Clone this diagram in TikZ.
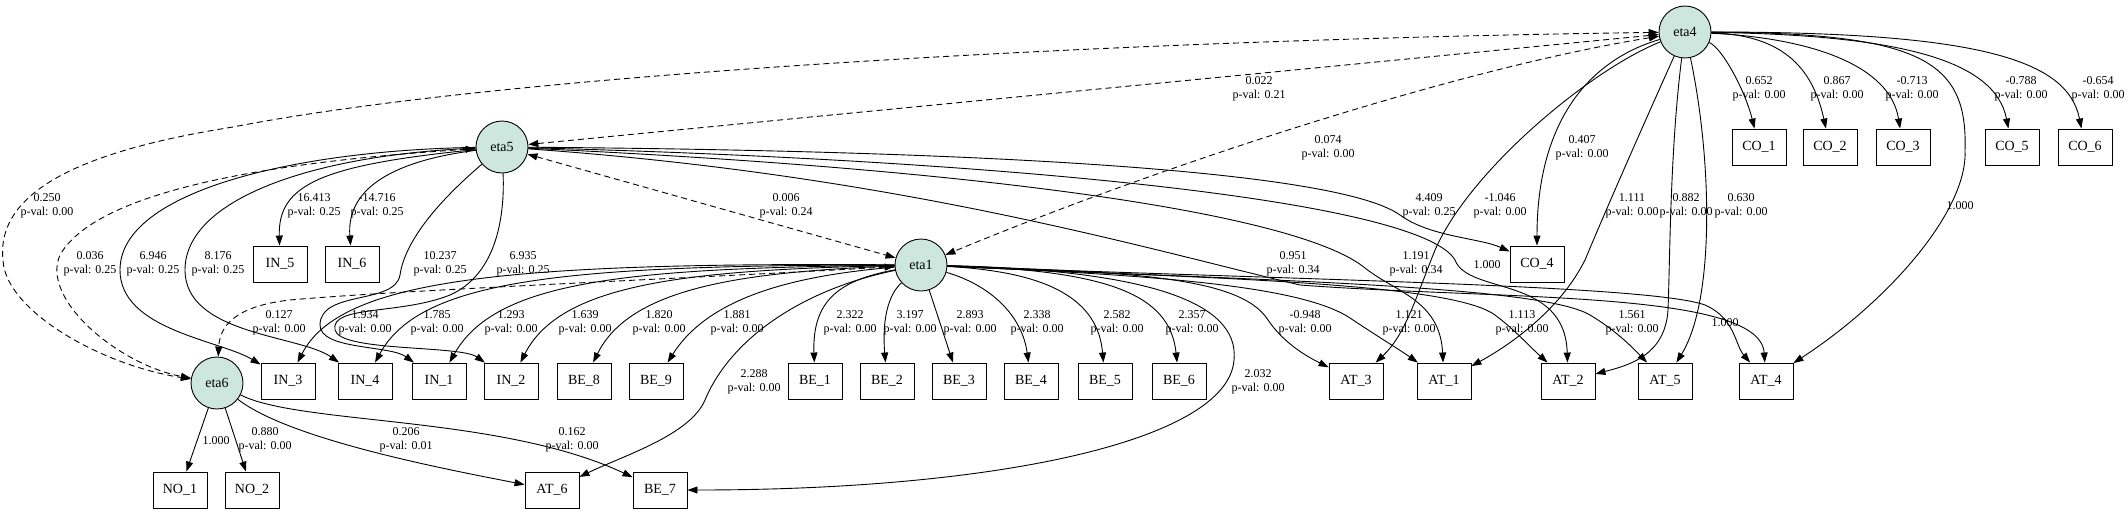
\documentclass[tikz,border=0pt]{standalone}
\usepackage{fontspec}
\setmainfont{Liberation Serif}
\usetikzlibrary{arrows.meta}
\definecolor{latfill}{RGB}{205,230,222}
\begin{document}
\begin{tikzpicture}[x=1pt,y=-1pt,
  lat/.style={circle,draw,line width=0.9pt,fill=latfill,minimum size=52pt,inner sep=0pt,font=\fontsize{14}{16}\selectfont},
  obs/.style={rectangle,draw,line width=0.9pt,minimum width=54pt,minimum height=36pt,inner sep=0pt,font=\fontsize{14}{16}\selectfont},
  lab/.style={align=center,inner sep=0pt,font=\fontsize{12}{14.5}\selectfont},
  ld/.style={-{Triangle[length=10pt,width=7pt]},line width=0.9pt},
  cv/.style={{Triangle[length=10pt,width=7pt]}-{Triangle[length=10pt,width=7pt]},dash pattern=on 6pt off 4pt,line width=0.9pt}]
\useasboundingbox (0,0) rectangle (2128,512);
% latent nodes
\node[lat] (eta4) at (1685,32) {eta4};
\node[lat] (eta5) at (502,147) {eta5};
\node[lat] (eta1) at (921,265) {eta1};
\node[lat] (eta6) at (217,383) {eta6};
% rank 1
\node[obs] (CO1) at (1759,147) {CO\_1};
\node[obs] (CO2) at (1830,147) {CO\_2};
\node[obs] (CO3) at (1903,147) {CO\_3};
\node[obs] (CO5) at (2012,147) {CO\_5};
\node[obs] (CO6) at (2085,147) {CO\_6};
% rank 2
\node[obs] (IN5) at (280,264) {IN\_5};
\node[obs] (IN6) at (352,264) {IN\_6};
\node[obs] (CO4) at (1537,264) {CO\_4};
% rank 3
\node[obs] (IN3) at (288,381) {IN\_3};
\node[obs] (IN4) at (365,381) {IN\_4};
\node[obs] (IN1) at (439,381) {IN\_1};
\node[obs] (IN2) at (511,381) {IN\_2};
\node[obs] (BE8) at (584,381) {BE\_8};
\node[obs] (BE9) at (656,381) {BE\_9};
\node[obs] (BE1) at (815,381) {BE\_1};
\node[obs] (BE2) at (887,381) {BE\_2};
\node[obs] (BE3) at (959,381) {BE\_3};
\node[obs] (BE4) at (1031,381) {BE\_4};
\node[obs] (BE5) at (1105,381) {BE\_5};
\node[obs] (BE6) at (1179,381) {BE\_6};
\node[obs] (AT3) at (1356,381) {AT\_3};
\node[obs] (AT1) at (1444,381) {AT\_1};
\node[obs] (AT2) at (1568,381) {AT\_2};
\node[obs] (AT5) at (1665,381) {AT\_5};
\node[obs] (AT4) at (1766,381) {AT\_4};
% rank 4
\node[obs] (NO1) at (180,490) {NO\_1};
\node[obs] (NO2) at (252,490) {NO\_2};
\node[obs] (AT6) at (552,490) {AT\_6};
\node[obs] (BE7) at (660,490) {BE\_7};

% eta4 loadings
\draw[ld] (eta4) .. controls (1722,48) and (1745,90) .. (CO1);
\draw[ld] (eta4) .. controls (1780,35) and (1812,65) .. (CO2);
\draw[ld] (eta4) .. controls (1810,38) and (1890,65) .. (CO3);
\draw[ld] (eta4) .. controls (1900,35) and (1995,60) .. (CO5);
\draw[ld] (eta4) .. controls (1980,32) and (2068,60) .. (CO6);
\draw[ld] (eta4) .. controls (1920,33) and (1968,60) .. (1965,150) .. controls (1968,210) and (1890,300) .. (AT4);
\draw[ld] (eta4) .. controls (1712,160) and (1715,300) .. (AT5);
\draw[ld] (eta4) .. controls (1670,150) and (1670,260) .. (1668,310) .. controls (1665,355) and (1630,365) .. (AT2);
\draw[ld] (eta4) .. controls (1650,110) and (1610,200) .. (1585,260) .. controls (1560,310) and (1510,345) .. (AT1);
\draw[ld] (eta4) .. controls (1590,70) and (1470,170) .. (1435,250) .. controls (1415,300) and (1405,335) .. (AT3);
\draw[ld] (eta4) .. controls (1590,60) and (1537,120) .. (CO4);

% covariances
\draw[cv] (eta4) -- (eta5);
\draw[cv] (eta4) .. controls (1450,70) and (1150,170) .. (eta1);
\draw[cv] (eta4) .. controls (1100,40) and (500,75) .. (233,127) .. controls (100,148) and (-5,185) .. (3,260) .. controls (5,310) and (100,365) .. (eta6);
\draw[cv] (eta5) .. controls (300,160) and (100,185) .. (60,255) .. controls (40,300) and (120,365) .. (eta6);
\draw[cv] (eta5) -- (eta1);
\draw[cv] (eta1) .. controls (700,278) and (400,290) .. (290,300) .. controls (245,305) and (220,320) .. (eta6);

% eta5 loadings
\draw[ld] (eta5) .. controls (320,165) and (278,185) .. (IN5);
\draw[ld] (eta5) .. controls (400,160) and (346,185) .. (IN6);
\draw[ld] (eta5) .. controls (300,150) and (120,190) .. (120,270) .. controls (120,330) and (220,340) .. (IN3);
\draw[ld] (eta5) .. controls (310,155) and (185,200) .. (185,270) .. controls (185,335) and (300,335) .. (IN4);
\draw[ld] (eta5) .. controls (440,200) and (405,240) .. (400,275) .. controls (395,305) and (320,290) .. (320,325) .. controls (320,350) and (390,345) .. (IN1);
\draw[ld] (eta5) .. controls (505,220) and (495,275) .. (450,295) .. controls (400,315) and (330,305) .. (335,330) .. controls (340,352) and (460,345) .. (IN2);
\draw[ld] (eta5) .. controls (900,150) and (1330,165) .. (1400,215) .. controls (1430,237) and (1480,238) .. (CO4);
\draw[ld] (eta5) .. controls (1000,160) and (1420,200) .. (1455,260) .. controls (1468,295) and (1565,275) .. (AT2);
\draw[ld] (eta5) .. controls (1000,170) and (1300,215) .. (1365,268) .. controls (1395,292) and (1440,300) .. (AT1);
\draw[ld] (eta5) .. controls (900,175) and (1150,250) .. (1300,285) .. controls (1500,300) and (1760,290) .. (AT4);

% eta1 loadings
\draw[ld] (eta1) .. controls (500,262) and (340,280) .. (IN3);
\draw[ld] (eta1) .. controls (560,265) and (420,280) .. (IN4);
\draw[ld] (eta1) .. controls (620,268) and (495,282) .. (IN1);
\draw[ld] (eta1) .. controls (680,270) and (560,285) .. (IN2);
\draw[ld] (eta1) .. controls (740,272) and (630,288) .. (BE8);
\draw[ld] (eta1) .. controls (800,275) and (710,295) .. (BE9);
\draw[ld] (eta1) .. controls (840,280) and (812,300) .. (BE1);
\draw[ld] (eta1) .. controls (888,295) and (882,320) .. (BE2);
\draw[ld] (eta1) -- (BE3);
\draw[ld] (eta1) .. controls (990,285) and (1022,315) .. (BE4);
\draw[ld] (eta1) .. controls (1050,272) and (1098,300) .. (BE5);
\draw[ld] (eta1) .. controls (1110,270) and (1170,295) .. (BE6);
\draw[ld] (eta1) .. controls (1140,270) and (1240,300) .. (1234,360) .. controls (1228,440) and (1000,490) .. (BE7);
\draw[ld] (eta1) .. controls (800,290) and (730,340) .. (705,400) .. controls (690,435) and (625,455) .. (AT6);
\draw[ld] (eta1) .. controls (1120,272) and (1240,275) .. (1268,320) .. controls (1285,345) and (1310,358) .. (AT3);
\draw[ld] (eta1) .. controls (1150,275) and (1300,285) .. (1350,318) .. controls (1380,338) and (1400,350) .. (AT1);
\draw[ld] (eta1) .. controls (1200,278) and (1450,282) .. (1495,315) .. controls (1515,330) and (1528,345) .. (AT2);
\draw[ld] (eta1) .. controls (1250,280) and (1540,285) .. (1590,315) .. controls (1615,330) and (1630,345) .. (AT5);
\draw[ld] (eta1) .. controls (1300,280) and (1650,285) .. (1705,305) .. controls (1735,318) and (1735,345) .. (AT4);

% eta6 loadings
\draw[ld] (eta6) -- (NO1);
\draw[ld] (eta6) -- (NO2);
\draw[ld] (eta6) .. controls (290,440) and (450,470) .. (AT6);
\draw[ld] (eta6) .. controls (300,425) and (500,415) .. (BE7);

% labels
\node[lab] (a1) at (1759,89) {0.652\\p-val: 0.00};
\node[lab] (a2) at (1837,89) {0.867\\p-val: 0.00};
\node[lab] (a3) at (1912,89) {-0.713\\p-val: 0.00};
\node[lab] (a4) at (2021,89) {-0.788\\p-val: 0.00};
\node[lab] (a5) at (2098,89) {-0.654\\p-val: 0.00};
\node[lab] (a6) at (1259,89) {0.022\\p-val: 0.21};
\node[lab] (a7) at (1328,148) {0.074\\p-val: 0.00};
\node[lab] (a8) at (1582,148) {0.407\\p-val: 0.00};
\node[lab] (a9) at (47,206) {0.250\\p-val: 0.00};
\node[lab] (a10) at (314,206) {16.413\\p-val: 0.25};
\node[lab] (a11) at (377,206) {-14.716\\p-val: 0.25};
\node[lab] (a12) at (786,206) {0.006\\p-val: 0.24};
\node[lab] (a13) at (1429,206) {4.409\\p-val: 0.25};
\node[lab] (a14) at (1500,206) {-1.046\\p-val: 0.00};
\node[lab] (a15) at (1632,206) {1.111\\p-val: 0.00};
\node[lab] (a16) at (1686,206) {0.882\\p-val: 0.00};
\node[lab] (a17) at (1741,206) {0.630\\p-val: 0.00};
\node[lab] (a18) at (1960,206) {1.000};
\node[lab] (a19) at (90,264) {0.036\\p-val: 0.25};
\node[lab] (a20) at (153,264) {6.946\\p-val: 0.25};
\node[lab] (a21) at (218,264) {8.176\\p-val: 0.25};
\node[lab] (a22) at (440,264) {10.237\\p-val: 0.25};
\node[lab] (a23) at (523,264) {6.935\\p-val: 0.25};
\node[lab] (a24) at (1293,264) {0.951\\p-val: 0.34};
\node[lab] (a25) at (1416,264) {1.191\\p-val: 0.34};
\node[lab] (a26) at (1487,265) {1.000};
\node[lab] (b1) at (279,323) {0.127\\p-val: 0.00};
\node[lab] (b2) at (365,323) {1.934\\p-val: 0.00};
\node[lab] (b3) at (437,323) {1.785\\p-val: 0.00};
\node[lab] (b4) at (511,323) {1.293\\p-val: 0.00};
\node[lab] (b5) at (585,323) {1.639\\p-val: 0.00};
\node[lab] (b6) at (659,323) {1.820\\p-val: 0.00};
\node[lab] (b7) at (737,323) {1.881\\p-val: 0.00};
\node[lab] (b8) at (850,323) {2.322\\p-val: 0.00};
\node[lab] (b9) at (910,323) {3.197\\p-val: 0.00};
\node[lab] (b10) at (970,323) {2.893\\p-val: 0.00};
\node[lab] (b11) at (1037,323) {2.338\\p-val: 0.00};
\node[lab] (b12) at (1117,323) {2.582\\p-val: 0.00};
\node[lab] (b13) at (1192,323) {2.357\\p-val: 0.00};
\node[lab] (b14) at (1305,323) {-0.948\\p-val: 0.00};
\node[lab] (b15) at (1409,323) {1.121\\p-val: 0.00};
\node[lab] (b16) at (1522,323) {1.113\\p-val: 0.00};
\node[lab] (b17) at (1632,323) {1.561\\p-val: 0.00};
\node[lab] (b18) at (1725,323) {1.000};
\node[lab] (b19) at (754,382) {2.288\\p-val: 0.00};
\node[lab] (b20) at (1258,382) {2.032\\p-val: 0.00};
\node[lab] (b21) at (406,440) {0.206\\p-val: 0.01};
\node[lab] (b22) at (572,440) {0.162\\p-val: 0.00};
\node[lab] (b23) at (265,440) {0.880\\p-val: 0.00};
\node[lab] (b24) at (216,441) {1.000};
\end{tikzpicture}
\end{document}
